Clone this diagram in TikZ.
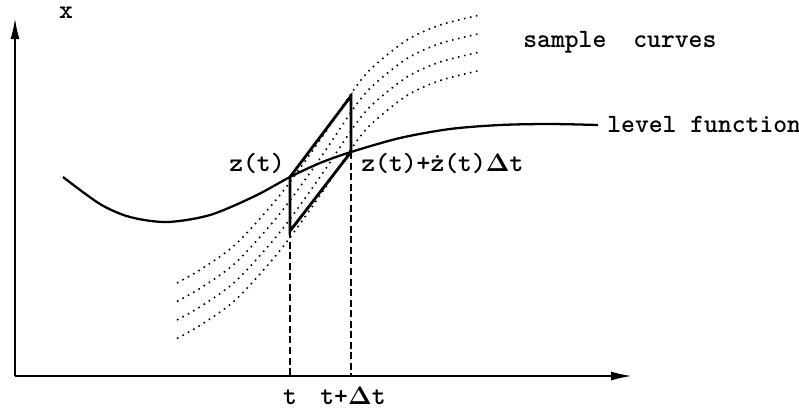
\documentclass[tikz,border=0pt]{standalone}
\usepackage{tikz}
\usetikzlibrary{arrows.meta}

\begin{document}
\begin{tikzpicture}[
    x=0.02cm, y=-0.02cm,
    axis/.style={-{Latex[length=4.2mm,width=1.8mm]}, line width=1.1pt},
    level/.style={line width=1.3pt},
    tangent/.style={line width=1.6pt, line join=miter},
    sample/.style={line width=0.9pt, dash pattern=on 0.9pt off 2.6pt},
    guide/.style={line width=1.2pt, dash pattern=on 4pt off 2pt},
    lbl/.style={font=\fontsize{15}{17}\selectfont\ttfamily\bfseries, inner sep=0pt}
]
\useasboundingbox (0,0) rectangle (799,414);

% axes
\coordinate (o) at (15,376);
\coordinate (xend) at (632,376);
\coordinate (yend) at (15,18);
\draw[axis] (o) -- (xend);
\draw[axis] (o) -- (yend);
\node[lbl, anchor=base] (xlab) at (66,18) {x};

% sample curves, shifted copies
\foreach \s in {0,18.5,37,55.5}
  \draw[sample, shift={(0,\s)}] plot[smooth] coordinates {(177,283) (203,268) (237,243) (280,195) (320,140) (355,88) (373,67) (407,40) (440,25) (480,15)};
\node[lbl, anchor=base west] (sclab) at (523,47) {sample\hspace{0.5em} curves};

% level function through z(t) and z(t+dt)
\coordinate (zt) at (290,177);
\coordinate (zn) at (351,152);
\draw[level] plot[smooth] coordinates {(63,177) (100,204) (130,217) (167,222) (210,215) (255,196) (zt) (320,163) (zn) (400,138) (450,129) (500,125) (550,124) (598,125)};
\node[lbl, anchor=base west] (lflab) at (607,132) {level function};

% step parallelogram
\coordinate (ztl) at (290,231);
\coordinate (znu) at (351,96);
\draw[tangent] (zt) -- (znu) -- (zn) -- (ztl) -- cycle;
\node[lbl, anchor=base east] (ztlab) at (285,171) {z(t)};
\node[lbl, anchor=base west] (znlab) at (361,171) {z(t)+\.{z}(t)$\mathbf{\Delta}$t};

% drop lines to the time axis
\coordinate (t0) at (290,376);
\coordinate (t1) at (351,376);
\draw[guide] (ztl) -- (t0);
\draw[guide] (zn) -- (t1);
\node[lbl, anchor=base] (tlab) at (290,404) {t};
\node[lbl, anchor=base] (dtlab) at (353,404) {t+$\mathbf{\Delta}$t};
\end{tikzpicture}
\end{document}
